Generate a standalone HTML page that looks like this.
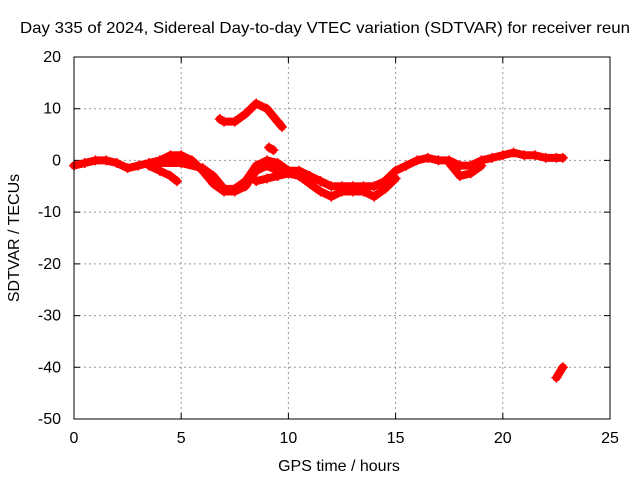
<!DOCTYPE html>
<html><head><meta charset="utf-8"><style>
body{margin:0;background:#fff;}
svg{display:block;font-family:"Liberation Sans",sans-serif;font-size:16px;}
</style></head><body>
<svg id="chart" width="640" height="480">
<text x="325" y="33" text-anchor="middle" textLength="610" lengthAdjust="spacingAndGlyphs">Day 335 of 2024, Sidereal Day-to-day VTEC variation (SDTVAR) for receiver reun</text>
<text x="339" y="471" text-anchor="middle">GPS time / hours</text>
<text transform="translate(19,238) rotate(-90)" text-anchor="middle">SDTVAR / TECUs</text>
<g id="grid"></g><g id="axes"></g><g id="marks"></g>
<rect x="74" y="57" width="536" height="362" fill="none" stroke="#000" stroke-width="1"/>
</svg>
<script>
const xTicks=[0,5,10,15,20,25];
const yTicks=[20,10,0,-10,-20,-30,-40,-50];
const seriesMain=[[0,-1],[0.5,-0.5],[1,0],[1.5,0],[2,-0.5],[2.5,-1.5],[3,-1],[3.5,-0.5],[4,0],[4.5,1],[5,1],[5.5,0],[6,-2],[6.5,-4.5],[7,-6],[7.5,-6],[8,-5],[8.5,-2],[9,-1],[9.5,-2],[10,-2],[10.5,-2],[11,-3],[11.5,-4],[12,-5],[12.5,-5],[13,-5],[13.5,-5],[14,-5],[14.5,-4],[15,-2],[15.5,-1],[16,0],[16.5,0.5],[17,0],[17.5,0],[18,-1],[18.5,-1],[19,0],[19.5,0.5],[20,1],[20.5,1.5],[21,1],[21.5,1],[22,0.5],[22.5,0.5],[22.8,0.5]];
const seriesBranch1=[[3.5,-1],[4,-2],[4.5,-3],[4.8,-4]];
const seriesBranch2=[[4,-0.5],[5,-0.5],[6,-1.5],[6.5,-3],[7,-5.5],[7.5,-5.5],[8,-4],[8.5,-1],[9,0],[9.5,-0.5],[10,-2]];
const seriesLower=[[8.5,-4],[9,-3.5],[9.5,-3],[10,-2.5],[10.5,-3],[11,-4.5],[11.5,-6],[12,-7],[12.5,-6],[13,-6],[13.5,-6],[14,-7],[14.5,-5.5],[15,-3.5]];
const seriesDip=[[17.5,-0.5],[18,-3],[18.5,-2.5],[19,-1]];
const seriesArc=[[6.8,8],[7,7.5],[7.5,7.5],[8,9],[8.5,11],[9,10],[9.5,7.5],[9.7,6.5]];
const seriesBlip=[[9.1,2.5],[9.3,2]];
const seriesOutlier=[[22.5,-42],[22.8,-40]];
const allSeries=[seriesMain,seriesBranch1,seriesBranch2,seriesLower,seriesDip,seriesArc,seriesBlip,seriesOutlier];
const X0=74,X1=610,Y0=57,Y1=419;
const sx=v=>X0+(v-0)/(25-0)*(X1-X0);
const sy=v=>Y0+(20-v)/(20-(-50))*(Y1-Y0);
const NS="http://www.w3.org/2000/svg";
const grid=document.getElementById('grid'),axes=document.getElementById('axes'),marks=document.getElementById('marks');
function mk(tag,attrs,parent){const e=document.createElementNS(NS,tag);for(const k in attrs)e.setAttribute(k,attrs[k]);parent.appendChild(e);return e;}
xTicks.forEach(t=>{const x=sx(t);
 if(t>0&&t<25){const g=mk('line',{x1:x,x2:x,y1:Y0,y2:Y1,stroke:'#999','stroke-dasharray':'2,3'},grid);
 
 }
 const tk=mk('path',{d:`M${x},${Y1}v-6M${x},${Y0}v6`,stroke:'#000'},axes);
 
 
 const l=mk('text',{x:x,y:Y1+24,'text-anchor':'middle'},axes);l.textContent=t;
 
 });
yTicks.forEach(t=>{const y=sy(t);
 if(t<20&&t>-50){const g=mk('line',{x1:X0,x2:X1,y1:y,y2:y,stroke:'#999','stroke-dasharray':'2,3'},grid);
 
 }
 const tk=mk('path',{d:`M${X0},${y}h6M${X1},${y}h-6`,stroke:'#000'},axes);
 
 
 const l=mk('text',{x:X0-13,y:y+5,'text-anchor':'end'},axes);l.textContent=t;
 
 });
allSeries.forEach((s,i)=>{
 const pl=mk('polyline',{points:s.map(p=>sx(p[0])+','+sy(p[1])).join(' '),fill:'none',stroke:'#f00','stroke-width':8,'stroke-linejoin':'round','stroke-linecap':'round'},marks);
 
 
 s.forEach(p=>{const x=sx(p[0]),y=sy(p[1]);
  const m=mk('path',{d:`M${x-5},${y}h10M${x},${y-5}v10`,stroke:'#f00','stroke-width':1.5},marks);
  
  });
});
</script>
</body></html>
